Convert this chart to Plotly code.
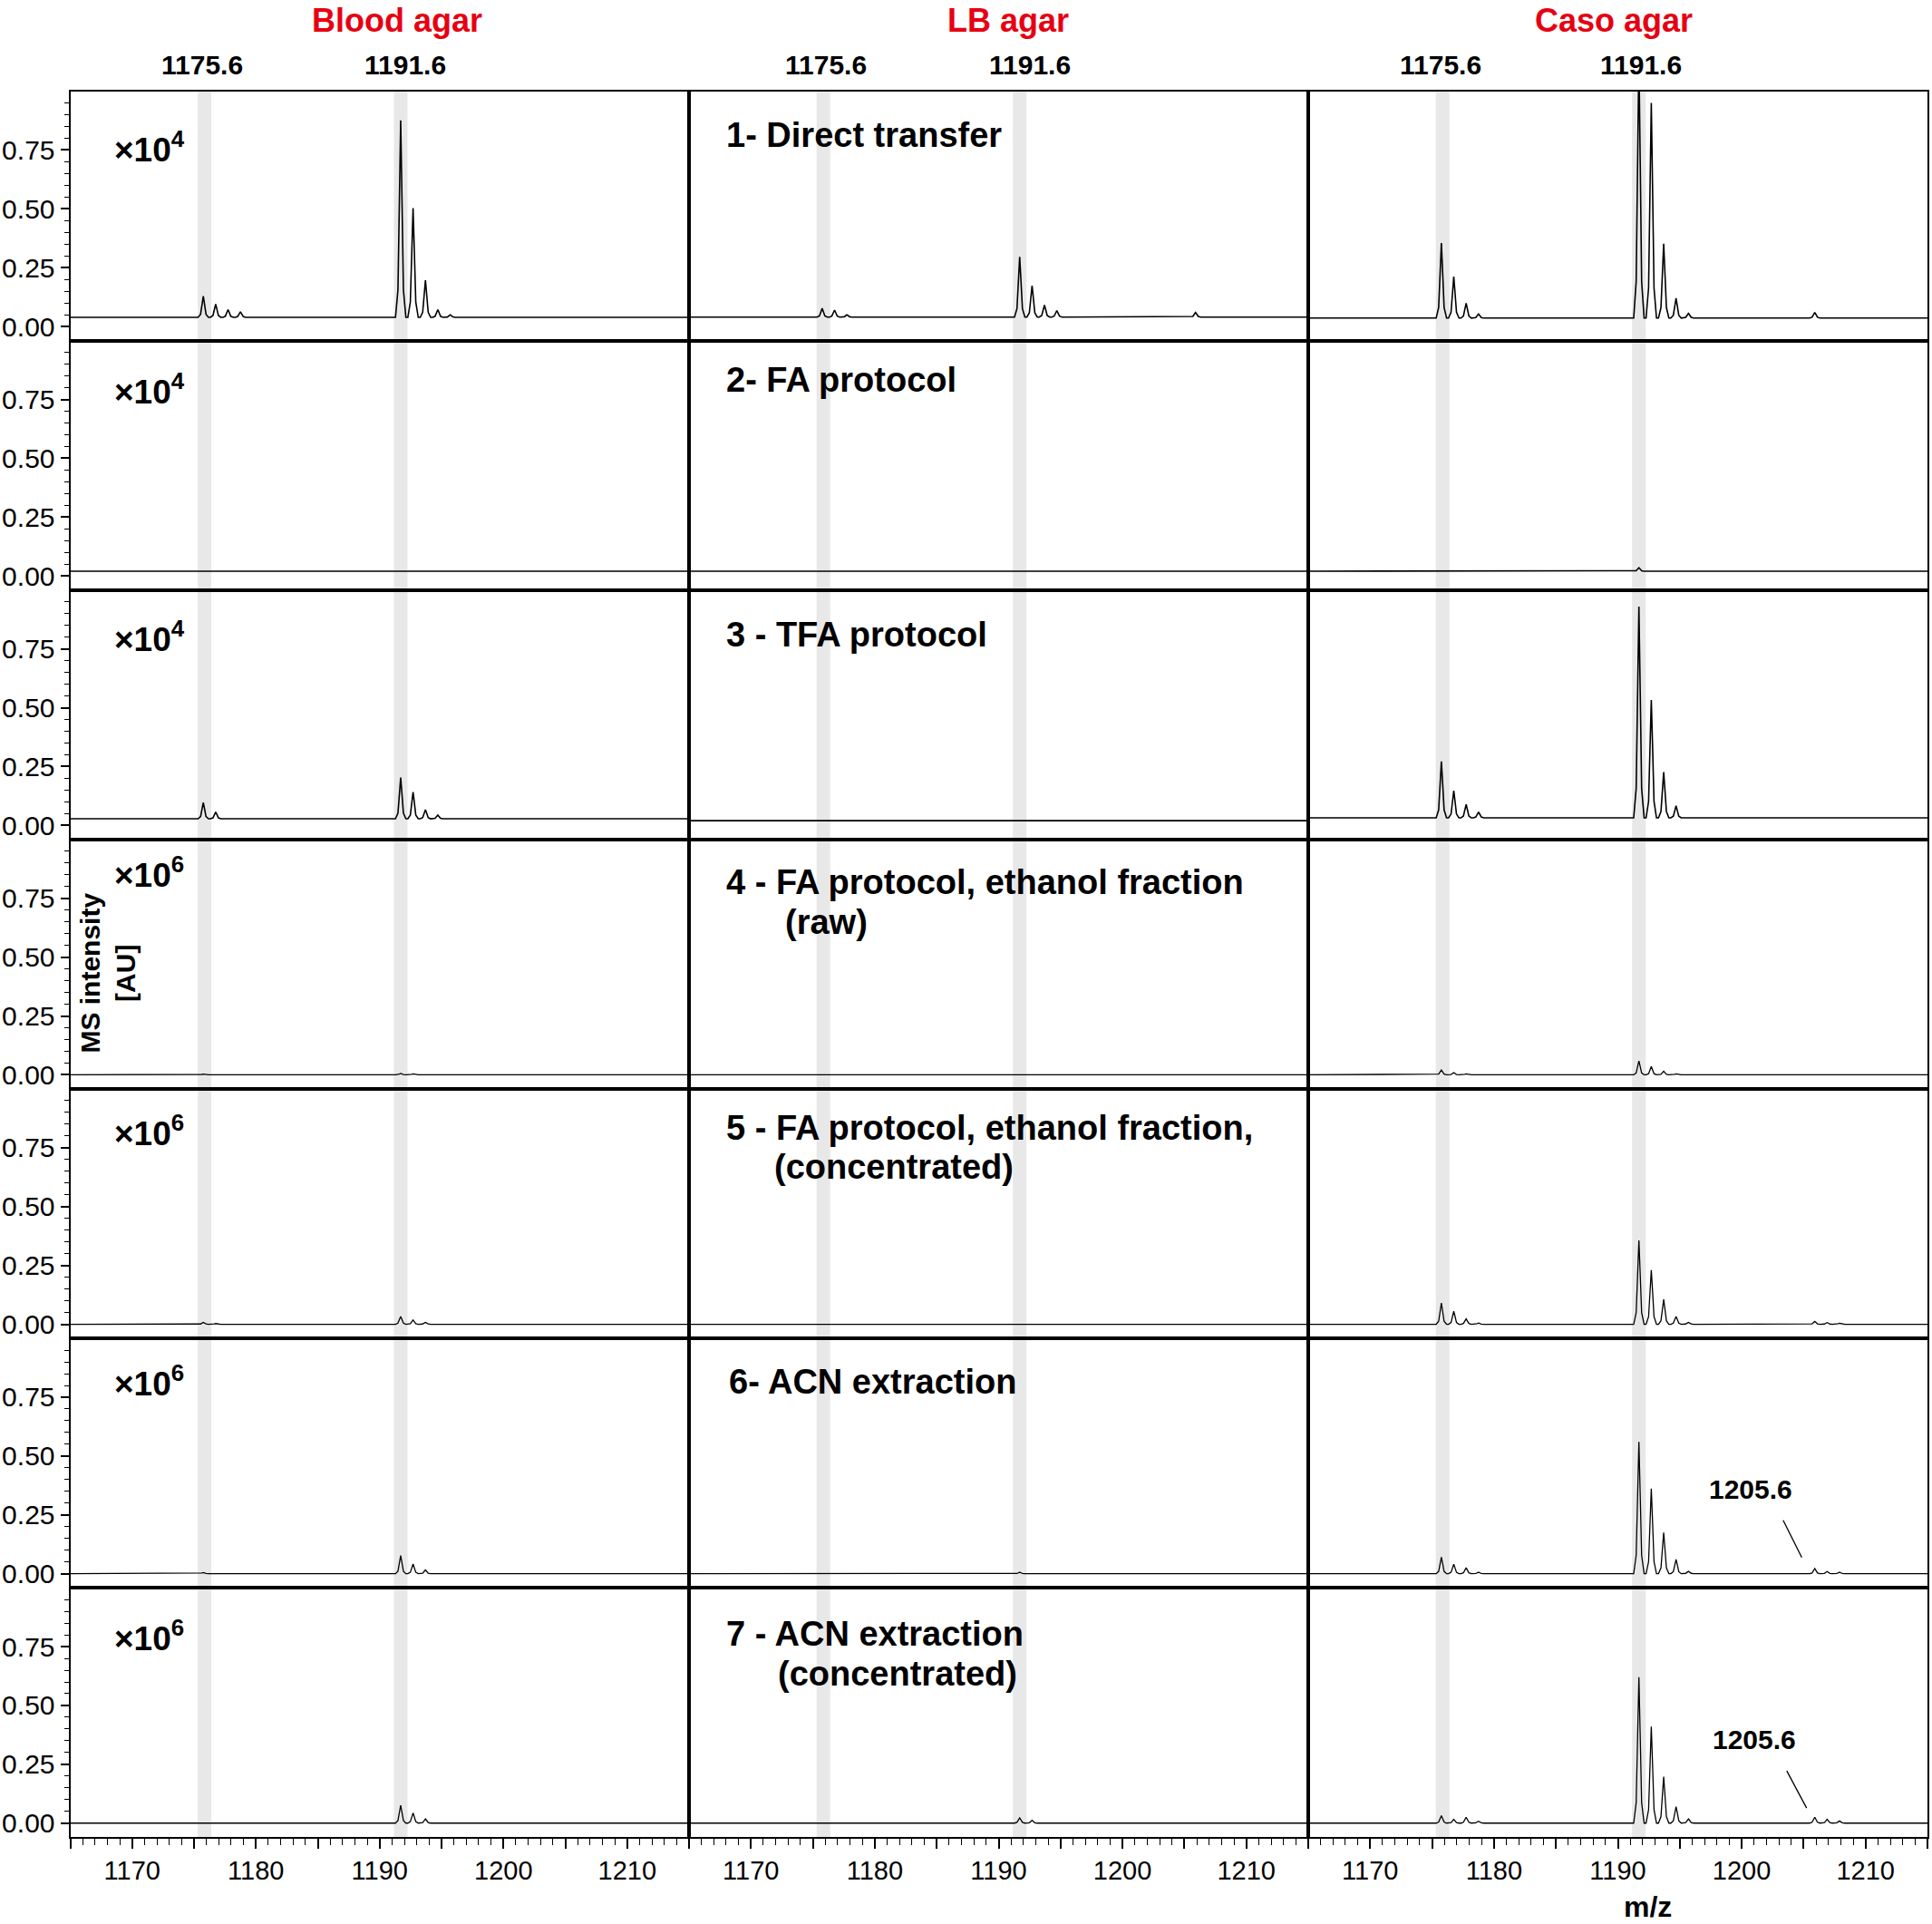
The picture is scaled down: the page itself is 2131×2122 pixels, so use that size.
import plotly.graph_objects as go
from plotly.subplots import make_subplots

# ---------------- data ----------------
COLUMNS = ["Blood agar", "LB agar", "Caso agar"]
HIGHLIGHT_LABELS = ["1175.6", "1191.6"]
MZ_RANGE = [1165, 1215]
X_TICKS = [1170, 1180, 1190, 1200, 1210]
Y_TICKS = [0.0, 0.25, 0.50, 0.75]
Y_TICK_TEXT = ["0.00", "0.25", "0.50", "0.75"]
MULTIPLIERS = ["×10<sup>4</sup>"] * 3 + ["×10<sup>6</sup>"] * 4

# isotope peak positions (m/z)
PEAK_MZ = [1175.75, 1176.75, 1177.75, 1178.75,
           1191.7, 1192.7, 1193.7, 1194.7, 1195.7,
           1205.9, 1206.9, 1207.9]

# baseline intensity per row (rows 1..7)
BLOOD_BASE = [0.039, 0.02, 0.028, 0.0, 0.0, 0.0, 0.0]
LB_BASE = [0.04, 0.02, 0.02, 0.0, 0.0, 0.0, 0.0]
CASO_BASE = [0.036, 0.02, 0.032, 0.0, 0.0, 0.0, 0.0]

# apex intensities per row, one value per PEAK_MZ entry
BLOOD_PEAKS = [
    [0.129, 0.095, 0.072, 0.063, 0.876, 0.503, 0.197, 0.072, 0.050, 0, 0, 0],
    [0, 0, 0, 0, 0, 0, 0, 0, 0, 0, 0, 0],
    [0.097, 0.057, 0, 0, 0.203, 0.142, 0.067, 0.044, 0, 0, 0, 0],
    [0.003, 0, 0, 0, 0.006, 0.004, 0, 0, 0, 0, 0, 0],
    [0.008, 0.003, 0, 0, 0.033, 0.018, 0.008, 0.002, 0, 0, 0, 0],
    [0.005, 0, 0, 0, 0.077, 0.041, 0.016, 0, 0, 0, 0, 0],
    [0.002, 0, 0, 0, 0.076, 0.043, 0.018, 0, 0, 0, 0, 0],
]
LB_PEAKS = [
    [0.077, 0.070, 0.050, 0, 0.296, 0.174, 0.091, 0.068, 0, 0.060, 0, 0],
    [0, 0, 0, 0, 0, 0, 0, 0, 0, 0, 0, 0],
    [0, 0, 0, 0, 0, 0, 0, 0, 0, 0, 0, 0],
    [0, 0, 0, 0, 0, 0, 0, 0, 0, 0, 0, 0],
    [0, 0, 0, 0, 0, 0, 0, 0, 0, 0, 0, 0],
    [0, 0, 0, 0, 0.006, 0, 0, 0, 0, 0, 0, 0],
    [0, 0, 0, 0, 0.022, 0.012, 0, 0, 0, 0, 0, 0],
]
CASO_PEAKS = [
    [0.355, 0.212, 0.099, 0.053, 1.15, 0.95, 0.352, 0.120, 0.056, 0.060, 0, 0],
    [0, 0, 0, 0, 0.035, 0, 0, 0, 0, 0, 0, 0],
    [0.272, 0.147, 0.089, 0.057, 0.93, 0.533, 0.226, 0.083, 0, 0, 0, 0],
    [0.020, 0.009, 0.004, 0, 0.059, 0.035, 0.015, 0.004, 0, 0, 0, 0],
    [0.090, 0.055, 0.023, 0.005, 0.356, 0.230, 0.106, 0.033, 0.008, 0.012, 0.007, 0.004],
    [0.070, 0.040, 0.025, 0.006, 0.560, 0.362, 0.175, 0.061, 0.010, 0.022, 0.009, 0.006],
    [0.032, 0.016, 0.025, 0.008, 0.620, 0.410, 0.197, 0.070, 0.018, 0.025, 0.016, 0.009],
]

ROW_LABELS = [
    ["1- Direct transfer"],
    ["2- FA protocol"],
    ["3 - TFA protocol"],
    ["4 - FA protocol, ethanol fraction", "(raw)"],
    ["5 - FA protocol, ethanol fraction,", "(concentrated)"],
    ["6- ACN extraction"],
    ["7 - ACN extraction", "(concentrated)"],
]
EXTRA_PEAK_LABEL = "1205.6"

# ---------------- styling / geometry ----------------
FONT = "Liberation Sans, Arial, Helvetica, sans-serif"
RED = "#e60012"
BAND_CENTERS = [1175.85, 1191.7]
BAND_HALF = 0.55
PROFILE_DX = [-0.42, -0.22, -0.11, 0.0, 0.11, 0.22, 0.42]
PROFILE_REL = [0.0, 0.14, 0.58, 1.0, 0.58, 0.14, 0.0]

W, H = 2131, 2122
COL_PX = [77.5, 760.0, 1443.0, 2126.0]
ROW_TOP = 100.6
ROW_H = 275.1
Y_RANGE = [-0.06, 1.0]


def px(x):
    return x / W


def py(y):
    return 1 - y / H


def spectrum(base, heights):
    pts = [(MZ_RANGE[0], base), (MZ_RANGE[1], base)]
    for mz, h in zip(PEAK_MZ, heights):
        if h > base:
            for dx, rel in zip(PROFILE_DX, PROFILE_REL):
                pts.append((mz + dx, base + (h - base) * rel))
    pts.sort()
    return [p[0] for p in pts], [p[1] for p in pts]


fig = make_subplots(rows=7, cols=3, horizontal_spacing=0, vertical_spacing=0)

col_data = [(BLOOD_BASE, BLOOD_PEAKS), (LB_BASE, LB_PEAKS), (CASO_BASE, CASO_PEAKS)]

shapes = []
annotations = []
extra_axes = {}

for r in range(7):
    for c in range(3):
        n = r * 3 + c + 1
        xs, ys = spectrum(col_data[c][0][r], col_data[c][1][r])
        fig.add_trace(go.Scatter(x=xs, y=ys, mode="lines",
                                 line=dict(color="black", width=1.6 if r < 3 else 1.3),
                                 showlegend=False, hoverinfo="skip"),
                      row=r + 1, col=c + 1)
        xd = [px(COL_PX[c]), px(COL_PX[c + 1])]
        yd = [py(ROW_TOP + ROW_H * (r + 1)), py(ROW_TOP + ROW_H * r)]
        bottom = (r == 6)
        xa = dict(domain=xd, range=MZ_RANGE, showgrid=False, zeroline=False, automargin=False,
                  showline=True, mirror=True, linecolor="black", linewidth=2)
        if bottom:
            # ticks every 5 (long) and every 1 (short); labels come from an overlay axis
            xa.update(ticks="outside", ticklen=11, tickwidth=1.5, tickcolor="black",
                      tickmode="linear", tick0=1165, dtick=5, showticklabels=False,
                      minor=dict(ticks="outside", ticklen=7, tickwidth=1.2, tickcolor="black",
                                 tickmode="linear", tick0=1165, dtick=1))
        else:
            xa.update(ticks="", showticklabels=False)
        ya = dict(domain=yd, range=Y_RANGE, showgrid=False, zeroline=False, automargin=False,
                  showline=True, mirror=True, linecolor="black", linewidth=2)
        if c == 0:
            ya.update(ticks="outside", ticklen=9, tickwidth=1.5, tickcolor="black",
                      tickvals=Y_TICKS, ticktext=Y_TICK_TEXT,
                      tickfont=dict(size=30, color="black", family=FONT),
                      minor=dict(ticks="outside", ticklen=5, tickwidth=1.2, tickcolor="black",
                                 tickvals=[round(0.05 * k, 2) for k in range(1, 20) if k % 5 != 0]),
                      showticklabels=True)
        else:
            ya.update(ticks="", showticklabels=False)
        fig.update_xaxes(xa, row=r + 1, col=c + 1)
        fig.update_yaxes(ya, row=r + 1, col=c + 1)

        xref = "x" if n == 1 else f"x{n}"
        yref = "y" if n == 1 else f"y{n}"
        for bc in BAND_CENTERS:
            shapes.append(dict(type="rect", xref=xref, yref=f"{yref} domain",
                               x0=bc - BAND_HALF, x1=bc + BAND_HALF, y0=0, y1=1,
                               fillcolor="#e8e8e8", line=dict(width=0), layer="below"))

        if bottom:
            k = 21 + c + 1  # overlay axes x22, x23, x24 carry the m/z labels
            extra_axes[f"xaxis{k}"] = dict(
                overlaying=f"x{n}", anchor=f"y{n}", side="bottom", range=MZ_RANGE,
                domain=xd, showgrid=False, zeroline=False, showline=False, automargin=False,
                ticks="outside", ticklen=11, tickcolor="rgba(0,0,0,0)",
                tickvals=X_TICKS, ticktext=[str(v) for v in X_TICKS],
                tickfont=dict(size=29, color="black", family=FONT))
            fig.add_trace(go.Scatter(x=[MZ_RANGE[0]], y=[None], mode="lines",
                                     xaxis=f"x{k}", yaxis=f"y{n}",
                                     showlegend=False, hoverinfo="skip"))

# 1205.6 callouts (col 3, rows 6 and 7)
callouts = [(6, 1200.7, 0.36, 1203.35, 0.227, 1204.85, 0.069),
            (7, 1201.05, 0.355, 1203.64, 0.222, 1205.24, 0.064)]
for row, tx, ty, lx0, ly0, lx1, ly1 in callouts:
    n = (row - 1) * 3 + 3
    annotations.append(dict(xref=f"x{n}", yref=f"y{n}", x=tx, y=ty, text=f"<b>{EXTRA_PEAK_LABEL}</b>",
                            showarrow=False, font=dict(size=30, color="black", family=FONT),
                            xanchor="center", yanchor="middle"))
    shapes.append(dict(type="line", xref=f"x{n}", yref=f"y{n}", x0=lx0, y0=ly0, x1=lx1, y1=ly1,
                       line=dict(color="black", width=1.3)))

# column titles
col_title_x = [437.6, 1111.7, 1780.0]
for c, t in enumerate(COLUMNS):
    annotations.append(dict(xref="paper", yref="paper", x=px(col_title_x[c]), y=py(23),
                            text=f"<b>{t}</b>", showarrow=False,
                            font=dict(size=36, color=RED, family=FONT),
                            xanchor="center", yanchor="middle"))

# highlight labels above each column
hl_x = [(223, 447), (910.5, 1136), (1588.7, 1810)]
for c in range(3):
    for k, lab in enumerate(HIGHLIGHT_LABELS):
        annotations.append(dict(xref="paper", yref="paper", x=px(hl_x[c][k]), y=py(72),
                                text=f"<b>{lab}</b>", showarrow=False,
                                font=dict(size=30, color="black", family=FONT),
                                xanchor="center", yanchor="middle"))

# row labels (middle column)
row_label_pos = [
    [(799, 149.5)],
    [(799, 418.6)],
    [(799, 700)],
    [(799, 973), (864, 1016.5)],
    [(799, 1243.5), (852, 1287)],
    [(802, 1523.5)],
    [(799, 1802), (856, 1845.5)],
]
for r in range(7):
    for text, (x, y) in zip(ROW_LABELS[r], row_label_pos[r]):
        annotations.append(dict(xref="paper", yref="paper", x=px(x), y=py(y),
                                text=f"<b>{text}</b>", showarrow=False,
                                font=dict(size=38, color="black", family=FONT),
                                xanchor="left", yanchor="middle"))

# multipliers (left column)
mult_y = [163, 429.5, 702.6, 962, 1247.6, 1523.5, 1804.8]
for r in range(7):
    annotations.append(dict(xref="paper", yref="paper", x=px(123.7), y=py(mult_y[r]),
                            text=f"<b>{MULTIPLIERS[r]}</b>", showarrow=False,
                            font=dict(size=37, color="black", family=FONT),
                            xanchor="left", yanchor="middle"))

# axis titles
annotations.append(dict(xref="paper", yref="paper", x=px(119), y=py(1073.6),
                        text="<b>MS intensity<br>[AU]</b>", showarrow=False, textangle=-90,
                        font=dict(size=30, color="black", family=FONT),
                        xanchor="center", yanchor="middle"))
annotations.append(dict(xref="paper", yref="paper", x=px(1817), y=py(2103),
                        text="<b>m/z</b>", showarrow=False,
                        font=dict(size=32, color="black", family=FONT),
                        xanchor="center", yanchor="middle"))

fig.update_layout(width=W, height=H, margin=dict(l=0, r=0, t=0, b=0),
                  paper_bgcolor="white", plot_bgcolor="white",
                  font=dict(family=FONT, color="black"),
                  shapes=shapes, annotations=annotations, showlegend=False,
                  **extra_axes)

# remove the default 8px page margin so the figure sits at the window origin
fig.write_html("out.html", config={"displayModeBar": False},
               post_script="document.body.style.margin='0';document.body.style.overflow='hidden';")
